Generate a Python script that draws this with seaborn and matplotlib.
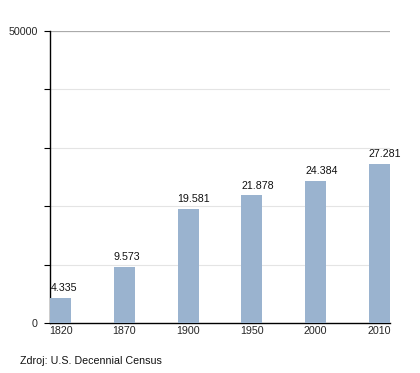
import matplotlib
matplotlib.use("Agg")
import matplotlib.pyplot as plt
import seaborn as sns
import pandas as pd
from matplotlib.ticker import FuncFormatter

years = ["1820", "1870", "1900", "1950", "2000", "2010"]
population = [4335, 9573, 19581, 21878, 24384, 27281]
value_labels = ["4.335", "9.573", "19.581", "21.878", "24.384", "27.281"]
source_text = "Zdroj: U.S. Decennial Census"

df = pd.DataFrame({"year": years, "pop": population})

sns.set_theme(style="white")
plt.rcParams['font.family'] = ['Liberation Sans', 'DejaVu Sans']

fig = plt.figure(figsize=(4.2, 3.73), dpi=100)
ax = fig.add_axes([50/420, 50/373, 340/420, 292/373])

sns.barplot(data=df, x="year", y="pop", color="#9ab3cf", width=0.33,
            saturation=1, ax=ax, zorder=3, linewidth=0)

ax.set_ylim(0, 50000)
ax.set_xlim(-0.17, 5.17)
ax.set_yticks([0, 10000, 20000, 30000, 40000, 50000])
ax.yaxis.set_major_formatter(FuncFormatter(lambda v, p: f"{int(v)}" if v in (0, 50000) else ""))
for yv in [10000, 20000, 30000, 40000]:
    ax.axhline(yv, color="#e4e4e4", lw=0.8, zorder=1)
ax.axhline(50000, color="#aaaaaa", lw=0.9, zorder=1)

fs = 7.7
for i, (v, lab) in enumerate(zip(population, value_labels)):
    ax.text(i - 0.165, v + 800, lab, ha="left", va="bottom", fontsize=fs, color="#111111")

ax.set_xlabel("")
ax.set_ylabel("")
for s in ["top", "right"]:
    ax.spines[s].set_visible(False)
ax.spines["left"].set_color("black")
ax.spines["bottom"].set_color("black")
ax.spines["left"].set_linewidth(1.0)
ax.spines["bottom"].set_linewidth(1.0)
ax.tick_params(axis="y", left=True, length=4, width=0.8, color="black", labelsize=fs, pad=5)
ax.tick_params(axis="x", bottom=False, length=0, labelsize=fs, pad=2)

fig.text(20/420, 1 - 361/373, source_text, fontsize=fs, ha="left", va="center", color="#111111")

fig.savefig("out.png", dpi=100)
